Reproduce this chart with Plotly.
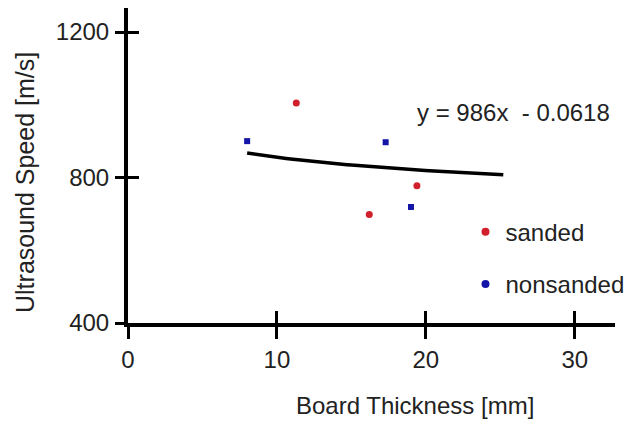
import numpy as np
import plotly.graph_objects as go

# data
sanded_x = [11.3, 16.2, 19.4]
sanded_y = [1005, 698, 777]
nonsanded_x = [8.0, 17.3, 19.0]
nonsanded_y = [900, 897, 719]
fit_a = 986
fit_b = -0.0618
fit_xmin, fit_xmax = 8.0, 25.2
x_ticks = [0, 10, 20, 30]
y_ticks = [400, 800, 1200]

FONT = "Liberation Sans, Arial, sans-serif"
RED = "#d1202c"
BLUE = "#1414a8"

fx = np.linspace(fit_xmin, fit_xmax, 60)
fy = fit_a * fx ** fit_b

fig = go.Figure()
fig.add_trace(go.Scatter(x=fx, y=fy, mode="lines", line=dict(color="black", width=3.5),
                         showlegend=False, hoverinfo="skip"))
fig.add_trace(go.Scatter(x=sanded_x, y=sanded_y, mode="markers", name="sanded",
                         marker=dict(color=RED, size=7, symbol="circle"), showlegend=False))
fig.add_trace(go.Scatter(x=nonsanded_x, y=nonsanded_y, mode="markers", name="nonsanded",
                         marker=dict(color=BLUE, size=6, symbol="square"), showlegend=False))
# legend entries (circle symbols as in the reference legend)
fig.add_trace(go.Scatter(x=[None], y=[None], mode="markers", name="sanded", legendgroup="a",
                         marker=dict(color=RED, size=8, symbol="circle")))
fig.add_trace(go.Scatter(x=[None], y=[None], mode="markers", name="nonsanded", legendgroup="b",
                         marker=dict(color=BLUE, size=8, symbol="circle")))

xr = [0, 32.7]
yr = [400, 1266]
axis_common = dict(showgrid=False, zeroline=False, showline=True, linecolor="black",
                   linewidth=4, ticks="outside", tickwidth=2.5, tickcolor="black",
                   tickfont=dict(family=FONT, size=24, color="#222"))
fig.update_layout(
    width=625, height=423,
    margin=dict(l=128, r=10, t=8, b=100, autoexpand=False),
    paper_bgcolor="white", plot_bgcolor="white",
    font=dict(family=FONT, color="#222"),
    xaxis=dict(range=xr, tickvals=x_ticks, ticklen=12, ticklabelstandoff=0, **axis_common),
    yaxis=dict(range=yr, tickvals=y_ticks, ticklen=9, ticklabelstandoff=1, **axis_common),
    xaxis2=dict(range=xr, tickvals=x_ticks, overlaying="x", ticks="inside", ticklen=12,
                tickwidth=2.5, tickcolor="black", showticklabels=False, showgrid=False,
                zeroline=False, anchor="y"),
    yaxis2=dict(range=yr, tickvals=y_ticks, overlaying="y", ticks="inside", ticklen=11,
                tickwidth=2.5, tickcolor="black", showticklabels=False, showgrid=False,
                zeroline=False, anchor="x"),
    legend=dict(x=0.693, y=0.36, xanchor="left", yanchor="top", traceorder="grouped",
                tracegroupgap=18, font=dict(family=FONT, size=24, color="#222"),
                bgcolor="rgba(0,0,0,0)"),
    annotations=[
        dict(text="y = 986x  - 0.0618", x=0.791, y=1 - (113 - 8) / 315, xref="paper", yref="paper",
             xanchor="center", yanchor="middle",
             showarrow=False, font=dict(family=FONT, size=24, color="#222")),
        dict(text="Board Thickness [mm]", x=0.589, y=-(405 - 323) / 315, xref="paper", yref="paper",
             xanchor="center", yanchor="middle",
             showarrow=False, font=dict(family=FONT, size=24, color="#222")),
        dict(text="Ultrasound Speed [m/s]", x=-(128 - 25) / 487, y=1 - (183 - 8) / 315,
             xref="paper", yref="paper", xanchor="center", yanchor="middle",
             textangle=-90, showarrow=False, font=dict(family=FONT, size=25, color="#222")),
    ],
)
# dummy trace to activate the overlay axes (ticks crossing the axis lines)
fig.add_trace(go.Scatter(x=[None], y=[None], xaxis="x2", yaxis="y2", showlegend=False))
fig.write_html("out.html")
